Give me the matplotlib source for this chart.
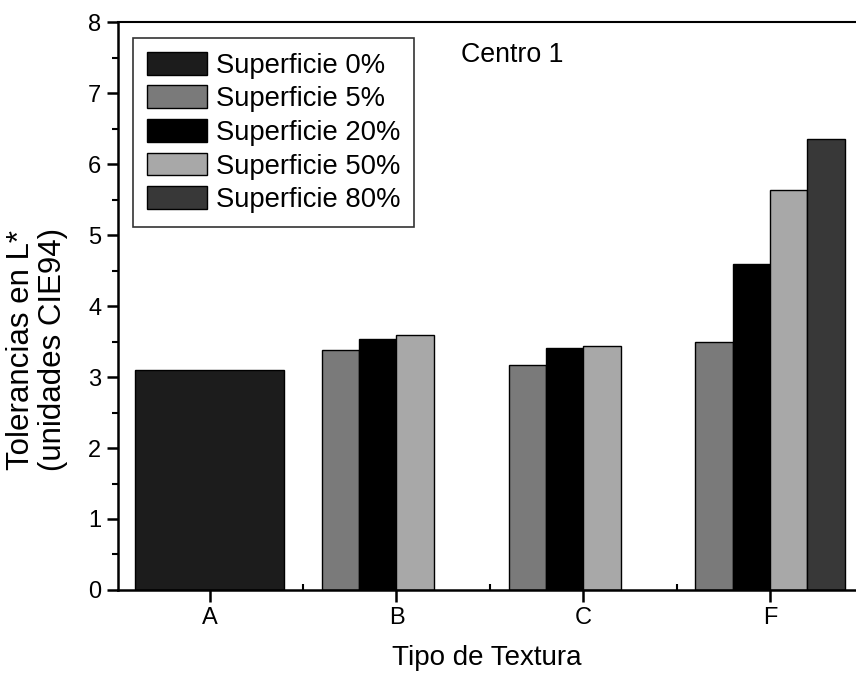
import numpy as np
import matplotlib
matplotlib.use("Agg")
import matplotlib.pyplot as plt
from matplotlib.ticker import MultipleLocator, FixedLocator

plt.rcParams['font.family'] = ['Liberation Sans', 'DejaVu Sans']

# Data
texturas = ['A', 'B', 'C', 'F']
series = ['Superficie 0%', 'Superficie 5%', 'Superficie 20%',
          'Superficie 50%', 'Superficie 80%']
sup0 = [3.10, np.nan, np.nan, np.nan]
sup5 = [np.nan, 3.38, 3.17, 3.50]
sup20 = [np.nan, 3.53, 3.41, 4.59]
sup50 = [np.nan, 3.59, 3.44, 5.63]
sup80 = [np.nan, np.nan, np.nan, 6.36]

colors = ['#1c1c1c', '#7a7a7a', '#000000', '#a8a8a8', '#383838']

fig = plt.figure(figsize=(8.56, 6.75), dpi=100)
ax = fig.add_axes([0.138, 0.126, 0.862, 0.841])

x = np.arange(len(texturas))
w = 0.2
# 0% drawn as a single wide bar, the rest in four slots
ax.bar(x, sup0, width=0.8, color=colors[0], edgecolor='black', lw=1, label=series[0])
offsets = [-0.3, -0.1, 0.1, 0.3]
for vals, off, col, lab in zip([sup5, sup20, sup50, sup80], offsets, colors[1:], series[1:]):
    ax.bar(x + off, vals, width=w, color=col, edgecolor='black', lw=1, label=lab)

ax.set_xlim(-0.49, 3.46)
ax.set_ylim(0, 8)
ax.set_xticks(x)
ax.set_xticklabels(texturas)
ax.xaxis.set_minor_locator(FixedLocator([0.5, 1.5, 2.5]))
ax.yaxis.set_major_locator(MultipleLocator(1))
ax.yaxis.set_minor_locator(MultipleLocator(0.5))

ax.tick_params(axis='x', which='major', direction='out', length=8.5, width=1.8,
               labelsize=17, pad=4)
ax.tick_params(axis='x', which='minor', direction='in', length=4.5, width=1.5)
ax.tick_params(axis='y', which='major', direction='out', length=8, width=1.8,
               labelsize=17, pad=4)
ax.tick_params(axis='y', which='minor', direction='out', length=4, width=1.5)

ax.spines['right'].set_visible(False)
ax.spines['left'].set_linewidth(1.8)
ax.spines['bottom'].set_linewidth(1.8)
ax.spines['top'].set_linewidth(1.5)

ax.set_xlabel('Tipo de Textura', fontsize=20, labelpad=11)
ax.text(-0.11, 0.423, 'Tolerancias en L*\n(unidades CIE94)', transform=ax.transAxes,
        rotation=90, ha='center', va='center', fontsize=22.5, linespacing=1.1)

ax.text(0.465, 0.942, 'Centro 1', transform=ax.transAxes, ha='left', va='center',
        fontsize=19.3)

leg = ax.legend(loc='upper left', bbox_to_anchor=(0.02, 0.972), borderaxespad=0,
                fontsize=19.7, frameon=True, fancybox=False, handlelength=2.2,
                handleheight=0.9, handletextpad=0.33, labelspacing=0.25,
                borderpad=0.5)
leg.get_frame().set_edgecolor('black')
leg.get_frame().set_linewidth(1.2)

fig.savefig('out.png', dpi=100)
